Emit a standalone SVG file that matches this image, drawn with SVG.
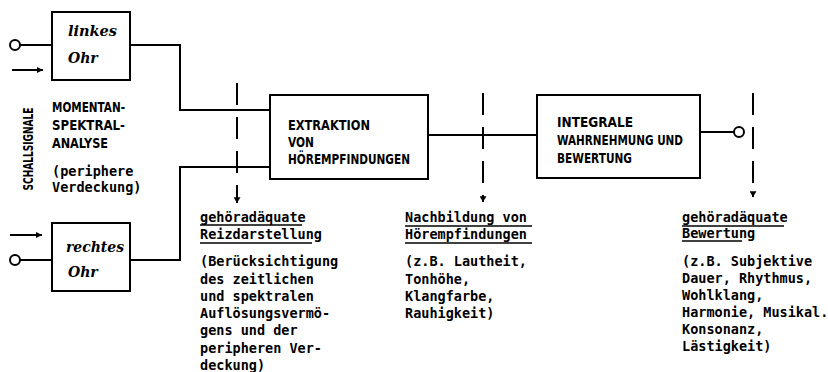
<svg xmlns="http://www.w3.org/2000/svg" width="828" height="372" viewBox="0 0 828 372">
<defs>
<style>
.box{fill:#fff;stroke:#000;stroke-width:2}
.ln{fill:none;stroke:#000;stroke-width:2}
.dash{fill:none;stroke:#000;stroke-width:2;stroke-dasharray:22 12}
.cap{font-family:"DejaVu Sans Condensed","DejaVu Sans",sans-serif;font-stretch:condensed;font-weight:bold;font-size:14px;fill:#000}
.mono{font-family:"DejaVu Sans Mono",monospace;font-weight:bold;font-size:13.5px;fill:#000}
.it{font-family:"DejaVu Serif",serif;font-style:italic;font-weight:bold;font-size:14px;fill:#000}
.ul{stroke:#000;stroke-width:1.6}
</style>
<marker id="ah" viewBox="0 0 10 10" refX="10" refY="5" markerWidth="6" markerHeight="6" markerUnits="userSpaceOnUse" orient="auto">
<path d="M0,0 L10,5 L0,10 z" fill="#000"/>
</marker>
<marker id="ahv" viewBox="0 0 10 12" refX="10" refY="6" markerWidth="12" markerHeight="7" markerUnits="userSpaceOnUse" orient="auto">
<path d="M0,0 L10,6 L0,12 z" fill="#000"/>
</marker>
</defs>
<rect width="828" height="372" fill="#fff"/>

<g id="connectors">
<circle cx="15" cy="45" r="5" class="ln"/>
<line x1="20" y1="45" x2="52" y2="45" class="ln"/>
<line x1="12" y1="70" x2="43" y2="70" class="ln" marker-end="url(#ah)"/>
<circle cx="15" cy="260" r="5" class="ln"/>
<line x1="20" y1="260" x2="52" y2="260" class="ln"/>
<line x1="10" y1="235" x2="42" y2="235" class="ln" marker-end="url(#ah)"/>
<polyline points="130,45 180,45 180,110 270,110" class="ln"/>
<polyline points="130,260 180,260 180,167 270,167" class="ln"/>
<line x1="428" y1="135" x2="537" y2="135" class="ln"/>
<line x1="700" y1="132" x2="734" y2="132" class="ln"/>
<circle cx="739" cy="132" r="5" class="ln"/>
<line x1="237" y1="83" x2="237" y2="203" class="dash" marker-end="url(#ahv)"/>
<line x1="483" y1="93" x2="483" y2="202" class="dash" marker-end="url(#ahv)"/>
<line x1="753" y1="93" x2="753" y2="197" class="dash" marker-end="url(#ahv)"/>
</g>

<g id="linkes-ohr">
<rect x="52" y="12" width="78" height="68" class="box"/>
<text x="68" y="36" class="it" textLength="49" lengthAdjust="spacingAndGlyphs">linkes</text>
<text x="68" y="63" class="it">Ohr</text>
</g>

<g id="rechtes-ohr">
<rect x="52" y="223" width="78" height="68" class="box"/>
<text x="66" y="252" class="it" textLength="58" lengthAdjust="spacingAndGlyphs">rechtes</text>
<text x="68" y="277" class="it">Ohr</text>
</g>

<g id="schallsignale">
<text transform="translate(33,149) rotate(-90)" text-anchor="middle" class="cap" font-size="13" textLength="83" lengthAdjust="spacingAndGlyphs">SCHALLSIGNALE</text>
</g>

<g id="momentan">
<text x="52" y="112" class="cap" textLength="73" lengthAdjust="spacingAndGlyphs">MOMENTAN-</text>
<text x="52" y="130" class="cap" textLength="73" lengthAdjust="spacingAndGlyphs">SPEKTRAL-</text>
<text x="52" y="148" class="cap" textLength="56" lengthAdjust="spacingAndGlyphs">ANALYSE</text>
<text x="52" y="176" class="mono">(periphere</text>
<text x="52" y="192" class="mono">Verdeckung)</text>
</g>

<g id="extraktion">
<rect x="270" y="95" width="158" height="84" class="box"/>
<text x="288" y="130" class="cap" textLength="82" lengthAdjust="spacingAndGlyphs">EXTRAKTION</text>
<text x="288" y="147" class="cap" textLength="26" lengthAdjust="spacingAndGlyphs">VON</text>
<text x="288" y="164" class="cap" textLength="122" lengthAdjust="spacingAndGlyphs">HÖREMPFINDUNGEN</text>
</g>

<g id="integrale">
<rect x="537" y="95" width="163" height="83" class="box"/>
<text x="557" y="127" class="cap" textLength="76" lengthAdjust="spacingAndGlyphs">INTEGRALE</text>
<text x="557" y="145" class="cap" textLength="126" lengthAdjust="spacingAndGlyphs">WAHRNEHMUNG UND</text>
<text x="557" y="163" class="cap" textLength="75" lengthAdjust="spacingAndGlyphs">BEWERTUNG</text>
</g>

<g id="reizdarstellung">
<text x="200" y="222" class="mono">gehöradäquate</text>
<line x1="200" y1="225" x2="302" y2="225" class="ul"/>
<text x="200" y="239" class="mono">Reizdarstellung</text>
<line x1="200" y1="243" x2="312" y2="243" class="ul"/>
<text x="200" y="266" class="mono">(Berücksichtigung</text>
<text x="200" y="284" class="mono">des zeitlichen</text>
<text x="200" y="301" class="mono">und spektralen</text>
<text x="200" y="318" class="mono">Auflösungsvermö-</text>
<text x="200" y="335" class="mono">gens und der</text>
<text x="200" y="353" class="mono">peripheren Ver-</text>
<text x="200" y="370" class="mono">deckung)</text>
</g>

<g id="nachbildung">
<text x="405" y="222" class="mono">Nachbildung von</text>
<line x1="405" y1="226" x2="532" y2="226" class="ul"/>
<text x="405" y="239" class="mono">Hörempfindungen</text>
<line x1="405" y1="243" x2="532" y2="243" class="ul"/>
<text x="405" y="266" class="mono">(z.B. Lautheit,</text>
<text x="405" y="284" class="mono">Tonhöhe,</text>
<text x="405" y="301" class="mono">Klangfarbe,</text>
<text x="405" y="318" class="mono">Rauhigkeit)</text>
</g>

<g id="bewertung">
<text x="682" y="222" class="mono">gehöradäquate</text>
<line x1="682" y1="226" x2="784" y2="226" class="ul"/>
<text x="682" y="238" class="mono">Bewertung</text>
<line x1="682" y1="241" x2="742" y2="241" class="ul"/>
<text x="682" y="266" class="mono">(z.B. Subjektive</text>
<text x="682" y="283" class="mono">Dauer, Rhythmus,</text>
<text x="682" y="300" class="mono">Wohlklang,</text>
<text x="682" y="317" class="mono">Harmonie, Musikal.</text>
<text x="682" y="334" class="mono">Konsonanz,</text>
<text x="682" y="351" class="mono">Lästigkeit)</text>
</g>
</svg>
